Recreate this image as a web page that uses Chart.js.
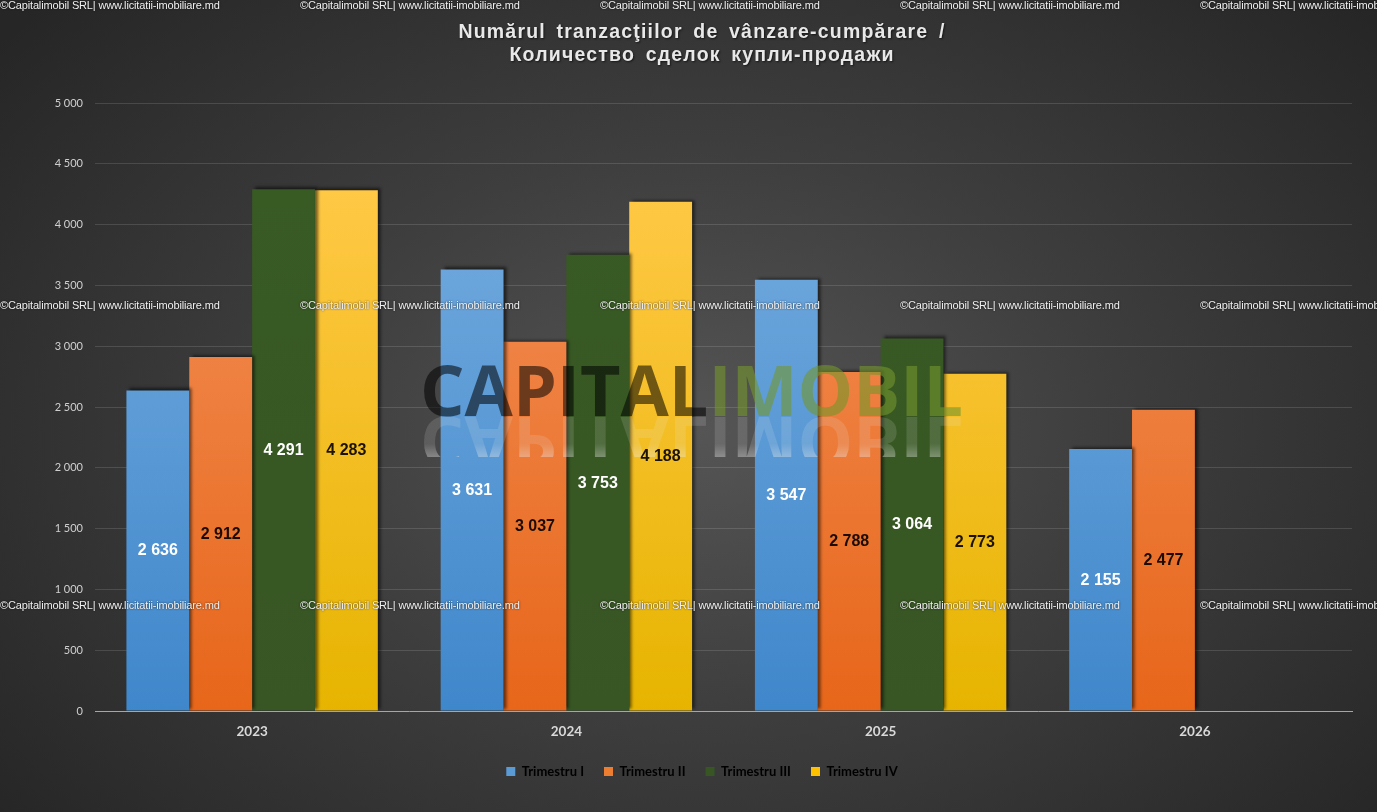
<!DOCTYPE html>
<html>
<head>
<meta charset="utf-8">
<script src="https://cdn.jsdelivr.net/npm/chart.js@4.4.1/dist/chart.umd.min.js"></script>
<style>
  html,body{margin:0;padding:0;}
  body{width:1377px;height:812px;overflow:hidden;position:relative;
    background:radial-gradient(ellipse 900px 620px at 700px 430px,#555 0%,#3e3e3e 45%,#262626 100%);}
  #chart{position:absolute;left:0;top:0;}
  .title{position:absolute;left:302px;width:800px;top:20px;text-align:center;
    font-family:"Liberation Sans",Arial,sans-serif;font-weight:bold;font-size:19.5px;line-height:23px;
    letter-spacing:1.2px;word-spacing:4px;color:#e8e8e8;text-shadow:1px 1px 2px rgba(0,0,0,.6);}
  .wm{position:absolute;font-family:"Liberation Sans",Arial,sans-serif;font-size:11px;letter-spacing:-0.15px;
    color:#f0f0f0;text-shadow:0 0 2px rgba(0,0,0,.8);white-space:nowrap;pointer-events:none;z-index:3;}
  .logo{position:absolute;left:420px;top:349px;font-family:"Open Sans",sans-serif;font-weight:700;
    font-size:70px;line-height:80px;white-space:nowrap;pointer-events:none;z-index:1;}
  .logo .a{color:rgba(0,0,0,.55);} .logo .b{color:rgba(115,150,45,.6);}
  .refl{position:absolute;left:420px;top:417px;width:600px;height:40px;overflow:hidden;pointer-events:none;z-index:1;}
  .refl div{position:absolute;left:0;top:-66.5px;font-family:"Open Sans",sans-serif;font-weight:700;font-size:70px;
    line-height:80px;white-space:nowrap;transform:scaleY(-1);transform-origin:0 66.5px;
    color:rgba(235,235,235,.6);
    -webkit-mask-image:linear-gradient(to top,rgba(0,0,0,.25) 0%,rgba(0,0,0,.25) 50%,rgba(0,0,0,1) 80%);}
  #vals{position:absolute;left:0;top:0;z-index:2;pointer-events:none;}
  .val{position:absolute;transform:translate(-50%,-50%);white-space:nowrap;
    font-family:"Liberation Sans",Arial,sans-serif;font-weight:bold;font-size:16px;line-height:18px;}
</style>
</head>
<body>
<canvas id="chart" width="1377" height="812"></canvas>
<div class="title">Numărul tranzacţiilor de vânzare-cumpărare /<br>Количество сделок купли-продажи</div>
<div class="logo"><span class="a">CAPITAL</span><span class="b">IMOBIL</span></div>
<div class="refl"><div>CAPITALIMOBIL</div></div>
<div id="vals"></div>
<div id="wms"></div>
<script>
const years=['2023','2024','2025','2026'];
const seriesNames=['Trimestru I','Trimestru II','Trimestru III','Trimestru IV'];
const trim1=[2636,3631,3547,2155];
const trim2=[2912,3037,2788,2477];
const trim3=[4291,3753,3064,null];
const trim4=[4283,4188,2773,null];
const yMax=5000, yStep=500;
const wmText='©Capitalimobil SRL| www.licitatii-imobiliare.md';

const solid=['#5b9bd5','#ed7d31','#375623','#ffc000'];
const grads=[['#72aade','#3f87cb'],['#f28e55','#e7661a'],['#385a23','#375623'],['#ffc845','#e6b400']];
const labelColors=['#ffffff','#1c0c00','#ffffff','#1c1200'];

// watermarks, 300px grid
const wms=document.getElementById('wms');
[0,300,600].forEach(t=>[0,300,600,900,1200].forEach(l=>{
  const d=document.createElement('div');d.className='wm';d.style.left=l+'px';d.style.top=(t-1)+'px';d.textContent=wmText;wms.appendChild(d);
}));

const fmt=v=>String(v).replace(/\B(?=(\d{3})+(?!\d))/g,' ');

function grad(i){
  return ctx=>{
    const a=ctx.chart.chartArea; if(!a) return solid[i];
    const g=ctx.chart.ctx.createLinearGradient(0,a.top+90,0,a.bottom);
    g.addColorStop(0,grads[i][0]); g.addColorStop(1,grads[i][1]); return g;
  };
}

const shadowPlugin={id:'shadow',
  beforeDatasetsDraw(chart){const c=chart.ctx;c.save();c.shadowColor='rgba(0,0,0,.55)';c.shadowBlur=3;c.shadowOffsetX=3;c.shadowOffsetY=-2;},
  afterDatasetsDraw(chart){chart.ctx.restore();}
};
// value labels as html, above the logo overlay
const labelPlugin={id:'vals',
  afterDraw(chart){
    const wrap=document.getElementById('vals');
    wrap.innerHTML=chart.data.datasets.map((ds,i)=>chart.getDatasetMeta(i).data.map((el,j)=>{
      const v=ds.data[j]; if(v==null) return '';
      return `<div class="val" style="left:${el.x}px;top:${(el.y+el.base)/2}px;color:${labelColors[i]}">${fmt(v)}</div>`;
    }).join('')).join('');
  }
};

new Chart(document.getElementById('chart'),{
  type:'bar',
  data:{labels:years,datasets:[trim1,trim2,trim3,trim4].map((d,i)=>({
    label:seriesNames[i],data:d,backgroundColor:grad(i),borderWidth:0,
    categoryPercentage:0.8,barPercentage:1.0}))},
  options:{
    responsive:false,animation:false,
    layout:{padding:{top:103,left:52,right:25,bottom:24}},
    plugins:{
      legend:{position:'bottom',
        labels:{boxWidth:9,boxHeight:9,padding:20,color:'#d9d9d9',font:{family:'Lato',weight:'bold',size:13},
          generateLabels:ch=>ch.data.datasets.map((ds,i)=>({text:ds.label,fillStyle:solid[i],strokeStyle:solid[i],lineWidth:0,datasetIndex:i}))}},
      tooltip:{enabled:false}
    },
    scales:{
      x:{grid:{display:false},border:{color:'#a6a6a6',width:1},
        ticks:{color:'#d9d9d9',padding:5,font:{family:'Lato',weight:'bold',size:13.5}},
        afterFit:s=>{s.height=34;}},
      y:{min:0,max:yMax,border:{display:false},
        grid:{color:'rgba(255,255,255,0.13)',drawTicks:false},
        ticks:{stepSize:yStep,padding:12,color:'#d0d0d0',font:{family:'Lato',size:11},callback:v=>fmt(v)},
        afterFit:s=>{s.width=43;}}
    }
  },
  plugins:[shadowPlugin,labelPlugin]
});
</script>
</body>
</html>
